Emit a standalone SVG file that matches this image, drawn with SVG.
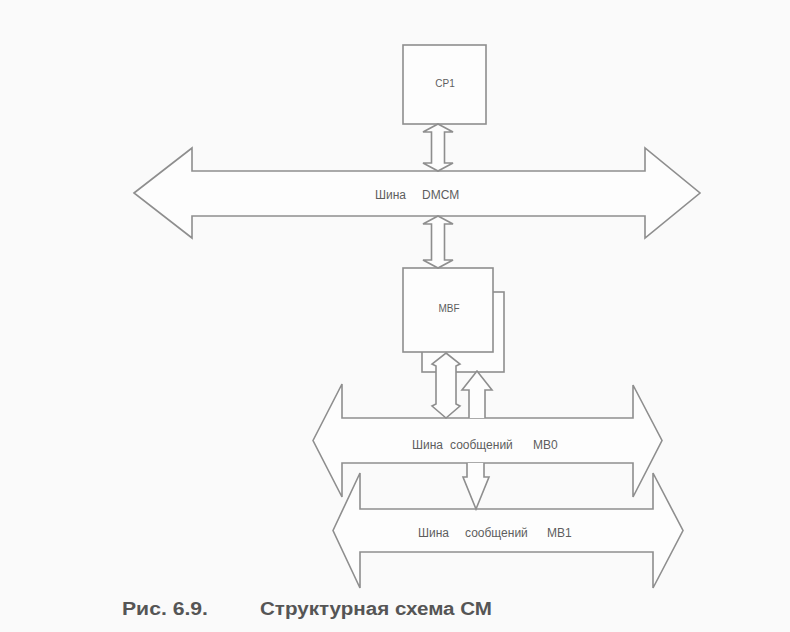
<svg xmlns="http://www.w3.org/2000/svg" width="790" height="632" viewBox="0 0 790 632">
<style>
.ln{fill:#fdfdfd;stroke:#8e8e8e;stroke-width:1.6;stroke-linejoin:miter}
.lbl{font-family:"Liberation Sans",Arial,sans-serif;font-size:12px;fill:#5e5e5e}
.sm{font-size:10px}
.cap{font-family:"Liberation Sans",Arial,sans-serif;font-size:18px;font-weight:bold;fill:#555}
</style>
<rect width="790" height="632" fill="#fafafa"/>

<g id="bus-top">
<polygon class="ln" points="134,193 192,148 192,171 645,171 645,148 700,193 645,238 645,216 192,216 192,238"/>
<text class="lbl" x="375" y="199">Шина</text>
<text class="lbl" x="422" y="199">DMCM</text>
</g>

<g id="mb0">
<polygon class="ln" points="313,440.5 342,384 342,418 633,418 633,385 662,440.5 633,497 633,463 342,463 342,497"/>
<text class="lbl" x="412" y="449">Шина</text>
<text class="lbl" x="450" y="449">сообщений</text>
<text class="lbl" x="533" y="449">MB0</text>
</g>

<g id="mb1">
<polygon class="ln" points="333,530.5 360,473 360,509 653,509 653,473 683,530.5 653,588 653,552 360,552 360,588"/>
<text class="lbl" x="418" y="537">Шина</text>
<text class="lbl" x="465" y="537">сообщений</text>
<text class="lbl" x="547" y="537">MB1</text>
</g>

<g id="cp1">
<rect class="ln" x="403" y="45" width="83" height="79"/>
<text class="lbl sm" x="445" y="87" text-anchor="middle">CP1</text>
</g>

<g id="mbf">
<rect class="ln" x="422" y="292" width="82" height="80"/>
<rect class="ln" x="403" y="268" width="90" height="84"/>
<text class="lbl sm" x="449" y="312" text-anchor="middle">MBF</text>
</g>

<g id="connectors">
<polygon class="ln" points="438,124 453,132 444.5,132 444.5,163 453,163 438,171 423,163 431.5,163 431.5,132 423,132"/>
<polygon class="ln" points="438,216 453,224 444.5,224 444.5,260 453,260 438,268 423,260 431.5,260 431.5,224 423,224"/>
<polygon class="ln" points="446,353 460,364 456,366 456,404 460,406 446,418 432,406 436,404 436,366 432,364"/>
<polyline class="ln" points="469,418 469,390 462,390 477,371 492,390 485,390 485,418"/>
<polyline class="ln" points="467,463 467,477 463,477 476,509 489,477 484,477 484,463"/>
</g>

<g id="caption">
<text class="cap" x="122" y="615" textLength="86" lengthAdjust="spacingAndGlyphs">Рис. 6.9.</text>
<text class="cap" x="260" y="615" textLength="232" lengthAdjust="spacingAndGlyphs">Структурная схема СМ</text>
</g>
</svg>
